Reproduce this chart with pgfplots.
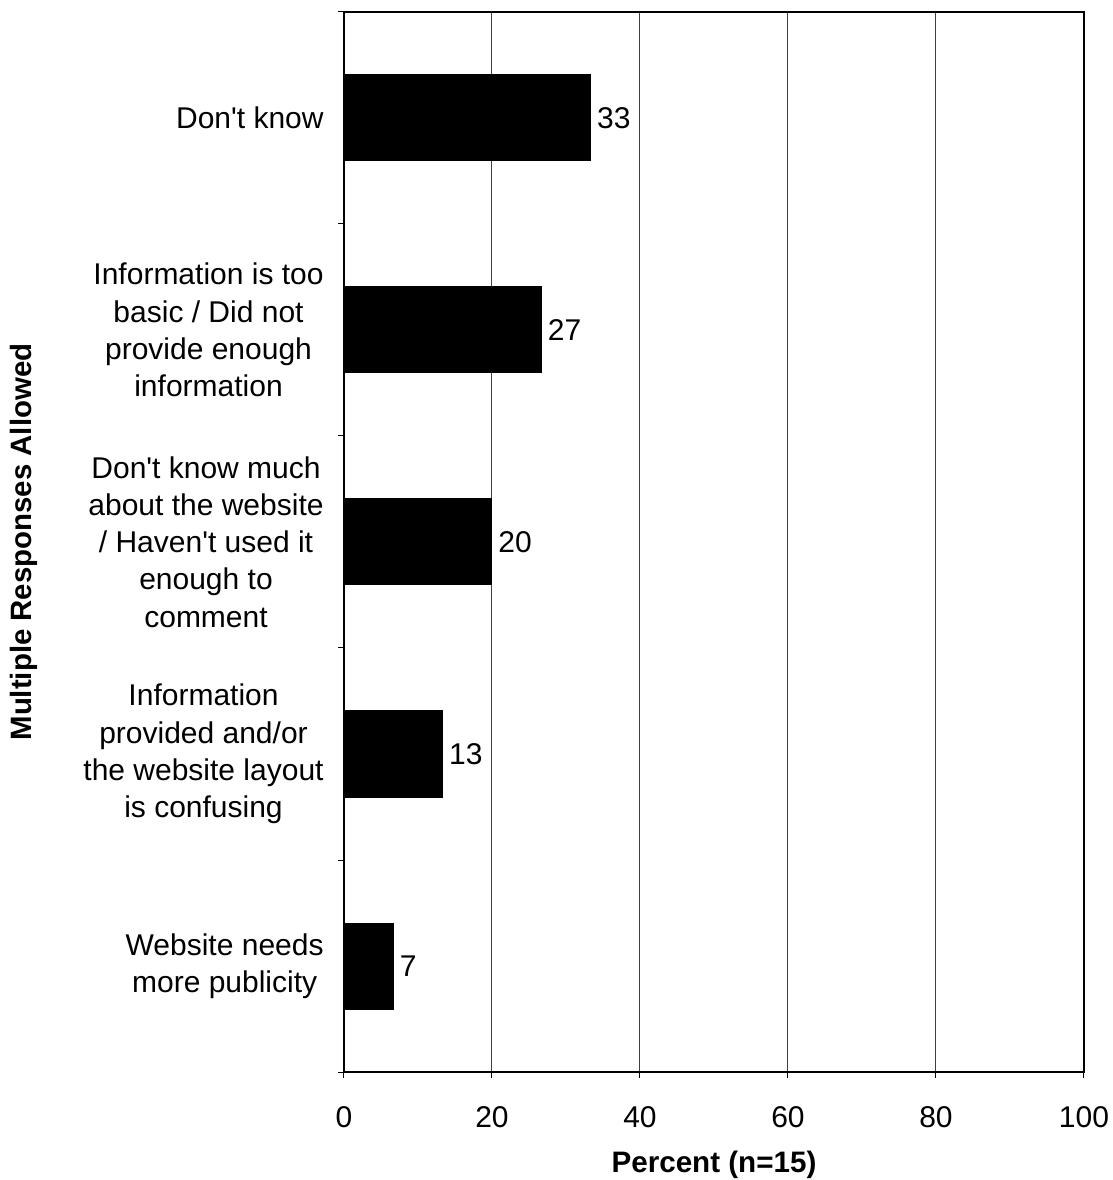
\documentclass[border=0pt]{standalone}
\usepackage{fontspec}
\setmainfont{Liberation Sans}
\usepackage{pgfplots}
\pgfplotsset{compat=1.18}
\newcommand{\q}{\textquotesingle}
\begin{document}
\begin{tikzpicture}
\begin{axis}[
  scale only axis,
  width=370pt, height=530pt,
  xmin=0, xmax=100, ymin=-0.5, ymax=4.5,
  xbar, bar width=43pt,
  xtick={0,20,...,100},
  ytick={-0.5,0.5,...,4.5},
  yticklabels={},
  extra y ticks={0,1,2,3,4},
  extra y tick labels={{Website needs\\more publicity},{Information\\provided and/or\\the website layout\\is confusing},{Don\q t know much\\about the website\\/ Haven\q t used it\\enough to\\comment},{Information is too\\basic / Did not\\provide enough\\information},{Don\q t know}},
  extra y tick style={major tick length=0pt, yticklabel style={align=center, anchor=east, inner sep=0pt, xshift=-10pt}},
  tick align=outside,
  xtick pos=bottom, ytick pos=left,
  major tick length=3pt,
  tick style={black, line width=0.5pt},
  xmajorgrids,
  grid style={black!75, line width=0.5pt},
  axis line style={line width=1pt},
  font=\fontsize{15}{18.6}\selectfont,
  /pgf/number format/assume math mode=true,
  xticklabel style={font=\fontsize{15}{18.6}\selectfont, inner sep=0pt, anchor=north, yshift=-14pt},
  xlabel={\bfseries Percent (n=15)},
  ylabel={\bfseries Multiple Responses Allowed},
  xlabel style={at={(axis description cs:0.5,0)}, anchor=center, inner sep=0pt, yshift=-46.5pt, font=\fontsize{14.8}{17}\selectfont},
  ylabel style={at={(axis description cs:0,0.5)}, anchor=center, inner sep=0pt, rotate=0, yshift=160pt, font=\fontsize{14.7}{17}\selectfont},
  nodes near coords,
  point meta=explicit symbolic,
  nodes near coords style={anchor=west, inner sep=0pt, xshift=3pt, font=\fontsize{15}{18.6}\selectfont},
  clip=false,
]
\addplot[fill=black, draw=black, line width=0.5pt, bar shift=0pt] coordinates {
  (6.67,0) [7]
  (13.33,1) [13]
  (20,2) [20]
  (26.67,3) [27]
  (33.33,4) [33]
};
\end{axis}
\path[use as bounding box] (-172pt,-54pt) rectangle (384.5pt,536pt);
\end{tikzpicture}
\end{document}
